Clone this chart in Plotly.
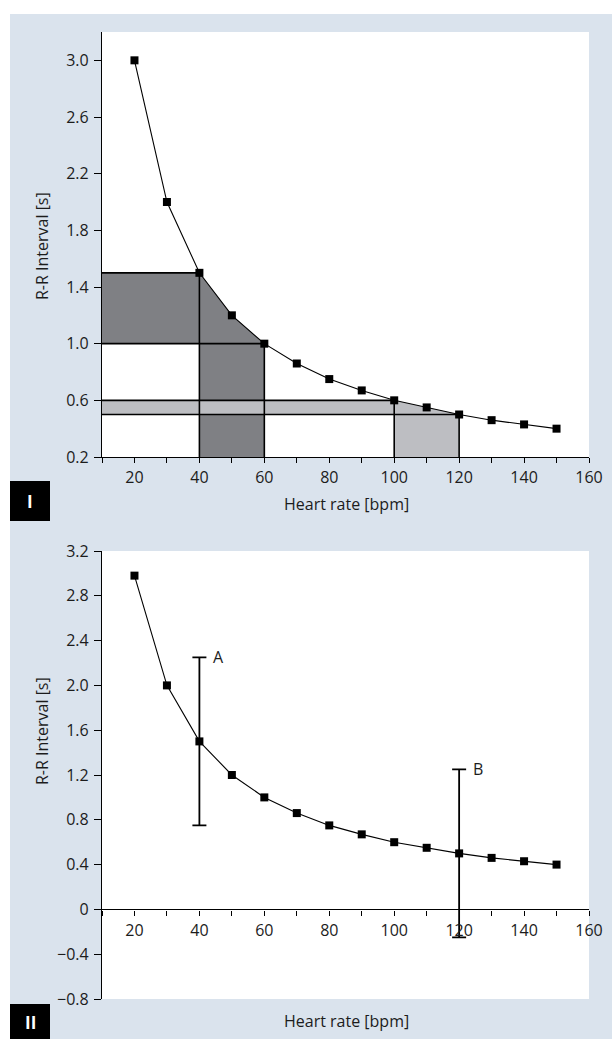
import plotly.graph_objects as go

# ---------------- data ----------------
heart_rate = [20, 30, 40, 50, 60, 70, 80, 90, 100, 110, 120, 130, 140, 150]
rr_panel1 = [3.0, 2.0, 1.5, 1.2, 1.0, 0.86, 0.75, 0.67, 0.6, 0.55, 0.5, 0.46, 0.43, 0.4]
rr_panel2 = [2.98, 2.0, 1.5, 1.2, 1.0, 0.86, 0.75, 0.67, 0.6, 0.55, 0.5, 0.46, 0.43, 0.4]

err_x = [40, 120]
err_y = [1.5, 0.5]
err_half = [0.75, 0.75]
err_labels = ["A", "B"]

x_ticks = list(range(10, 161, 10))
x_ticktext = ["" if v % 20 else str(v) for v in x_ticks]
y1_ticks = [0.2, 0.6, 1.0, 1.4, 1.8, 2.2, 2.6, 3.0]
y2_ticks = [-0.8, -0.4, 0, 0.4, 0.8, 1.2, 1.6, 2.0, 2.4, 2.8, 3.2]
y2_ticktext = ["\u22120.8", "\u22120.4", "0", "0.4", "0.8", "1.2", "1.6", "2.0", "2.4", "2.8", "3.2"]

# shaded regions (dark: 40-60 bpm, light: 100-120 bpm)
dark_lo, dark_hi = 2, 4     # indices into heart_rate (40 .. 60)
light_lo, light_hi = 8, 10  # indices (100 .. 120)
X0, Y0 = 10, 0.2

W, H = 612, 1039
FONT = "Open Sans"
TXT = "#1c1c1c"
BLUE = "#dae3ed"
DARK = "#7f8084"
LIGHT = "#bdbec2"
FS = 16

def px(xp):
    return xp / W

def py(yp):
    return 1 - yp / H

fig = go.Figure()

# dark region
dx = [X0, X0] + heart_rate[dark_lo:dark_hi + 1] + [heart_rate[dark_hi], heart_rate[dark_lo], heart_rate[dark_lo], X0]
dy = [rr_panel1[dark_hi], rr_panel1[dark_lo]] + rr_panel1[dark_lo:dark_hi + 1] + [Y0, Y0, rr_panel1[dark_hi], rr_panel1[dark_hi]]
fig.add_trace(go.Scatter(x=dx, y=dy, fill="toself", fillcolor=DARK, mode="lines",
                         line=dict(width=0), hoverinfo="skip", showlegend=False, xaxis="x", yaxis="y"))
# light region
lx = [X0, X0] + heart_rate[light_lo:light_hi + 1] + [heart_rate[light_hi], heart_rate[light_lo], heart_rate[light_lo], X0]
ly = [rr_panel1[light_hi], rr_panel1[light_lo]] + rr_panel1[light_lo:light_hi + 1] + [Y0, Y0, rr_panel1[light_hi], rr_panel1[light_hi]]
fig.add_trace(go.Scatter(x=lx, y=ly, fill="toself", fillcolor=LIGHT, mode="lines",
                         line=dict(width=0), hoverinfo="skip", showlegend=False, xaxis="x", yaxis="y"))

# outline lines
seg_x, seg_y = [], []
for lo, hi in [(dark_lo, dark_hi), (light_lo, light_hi)]:
    seg_x += [X0, heart_rate[lo], None, X0, heart_rate[hi], None,
              heart_rate[lo], heart_rate[lo], None, heart_rate[hi], heart_rate[hi], None]
    seg_y += [rr_panel1[lo], rr_panel1[lo], None, rr_panel1[hi], rr_panel1[hi], None,
              Y0, rr_panel1[lo], None, Y0, rr_panel1[hi], None]
fig.add_trace(go.Scatter(x=seg_x, y=seg_y, mode="lines", line=dict(color="black", width=1.6),
                         hoverinfo="skip", showlegend=False, xaxis="x", yaxis="y"))

# panel I curve
fig.add_trace(go.Scatter(x=heart_rate, y=rr_panel1, mode="lines+markers",
                         line=dict(color="black", width=1.1),
                         marker=dict(symbol="square", size=8, color="black"),
                         showlegend=False, xaxis="x", yaxis="y"))

# panel II error bars
fig.add_trace(go.Scatter(x=err_x, y=err_y, mode="markers",
                         marker=dict(size=1, color="rgba(0,0,0,0)"),
                         error_y=dict(type="data", array=err_half, visible=True,
                                      color="black", thickness=1.8, width=7),
                         showlegend=False, xaxis="x2", yaxis="y2"))
# panel II curve
fig.add_trace(go.Scatter(x=heart_rate, y=rr_panel2, mode="lines+markers",
                         line=dict(color="black", width=1.1),
                         marker=dict(symbol="square", size=8, color="black"),
                         showlegend=False, xaxis="x2", yaxis="y2"))

tickfont = dict(family=FONT, size=FS, color=TXT)
xdom = [px(102), px(589)]
y1dom = [py(457), py(32)]
y2dom = [py(999), py(551)]
zero_pos = y2dom[0] + (0 - (-0.8)) / 4.0 * (y2dom[1] - y2dom[0])

common_x = dict(range=[10, 160], tickvals=x_ticks, ticktext=x_ticktext, showgrid=False,
                zeroline=False, showline=True, linecolor="black", linewidth=1.2,
                ticks="outside", ticklen=5, tickcolor="black", tickwidth=1.2,
                tickfont=tickfont, ticklabelstandoff=1, fixedrange=True, automargin=False)
common_y = dict(showgrid=False, zeroline=False, showline=True, linecolor="black", linewidth=1.2,
                ticks="outside", ticklen=7, tickcolor="black", tickwidth=1.2,
                tickfont=tickfont, ticklabelstandoff=2, fixedrange=True, automargin=False)

fig.update_layout(
    width=W, height=H, autosize=False,
    margin=dict(l=0, r=0, t=0, b=0, pad=0, autoexpand=False),
    paper_bgcolor=BLUE, plot_bgcolor="white",
    xaxis=dict(domain=xdom, anchor="y", **common_x),
    yaxis=dict(domain=y1dom, anchor="x", range=[0.2, 3.2], tickvals=y1_ticks,
               ticktext=[f"{v:.1f}" for v in y1_ticks], **common_y),
    xaxis2=dict(domain=xdom, anchor="free", position=zero_pos, **common_x),
    yaxis2=dict(domain=y2dom, anchor="x2", range=[-0.8, 3.2], tickvals=y2_ticks,
                ticktext=y2_ticktext, **common_y),
    showlegend=False,
)

shapes = [
    dict(type="rect", xref="paper", yref="paper", x0=0, x1=1, y0=py(14), y1=1,
         fillcolor="white", line=dict(width=0), layer="below"),
    dict(type="rect", xref="paper", yref="paper", x0=0, x1=px(10), y0=0, y1=1,
         fillcolor="white", line=dict(width=0), layer="below"),
    dict(type="rect", xref="paper", yref="paper", x0=px(10), x1=px(50), y0=py(521), y1=py(481),
         fillcolor="black", line=dict(width=0)),
    dict(type="rect", xref="paper", yref="paper", x0=px(10), x1=px(50), y0=py(1039), y1=py(1004),
         fillcolor="black", line=dict(width=0)),
]
fig.update_layout(shapes=shapes)

def note(text, x, y, font, angle=0):
    return dict(text=text, x=x, y=y, xref="paper", yref="paper", showarrow=False,
                xanchor="center", yanchor="middle", textangle=angle, font=font)

boxfont = dict(family=FONT, size=17, color="white", weight="bold")
titlefont = dict(family=FONT, size=FS, color=TXT)
ann = [
    note("I", px(30), py(501), boxfont),
    note("II", px(30), py(1022), boxfont),
    note("Heart rate [bpm]", px(346), py(504), titlefont),
    note("Heart rate [bpm]", px(346), py(1021), titlefont),
    note("R-R Interval [s]", px(42), py(246), titlefont, -90),
    note("R-R Interval [s]", px(42), py(731), titlefont, -90),
]
for xv, yv, hv, lab in zip(err_x, err_y, err_half, err_labels):
    ann.append(dict(text=lab, x=xv, y=yv + hv, xref="x2", yref="y2", xanchor="left",
                    yanchor="middle", xshift=12, showarrow=False, font=titlefont))
fig.update_layout(annotations=ann)

fig.write_html("out.html", config={"displayModeBar": False},
               post_script="document.body.style.margin='0';document.body.style.overflow='hidden';")
